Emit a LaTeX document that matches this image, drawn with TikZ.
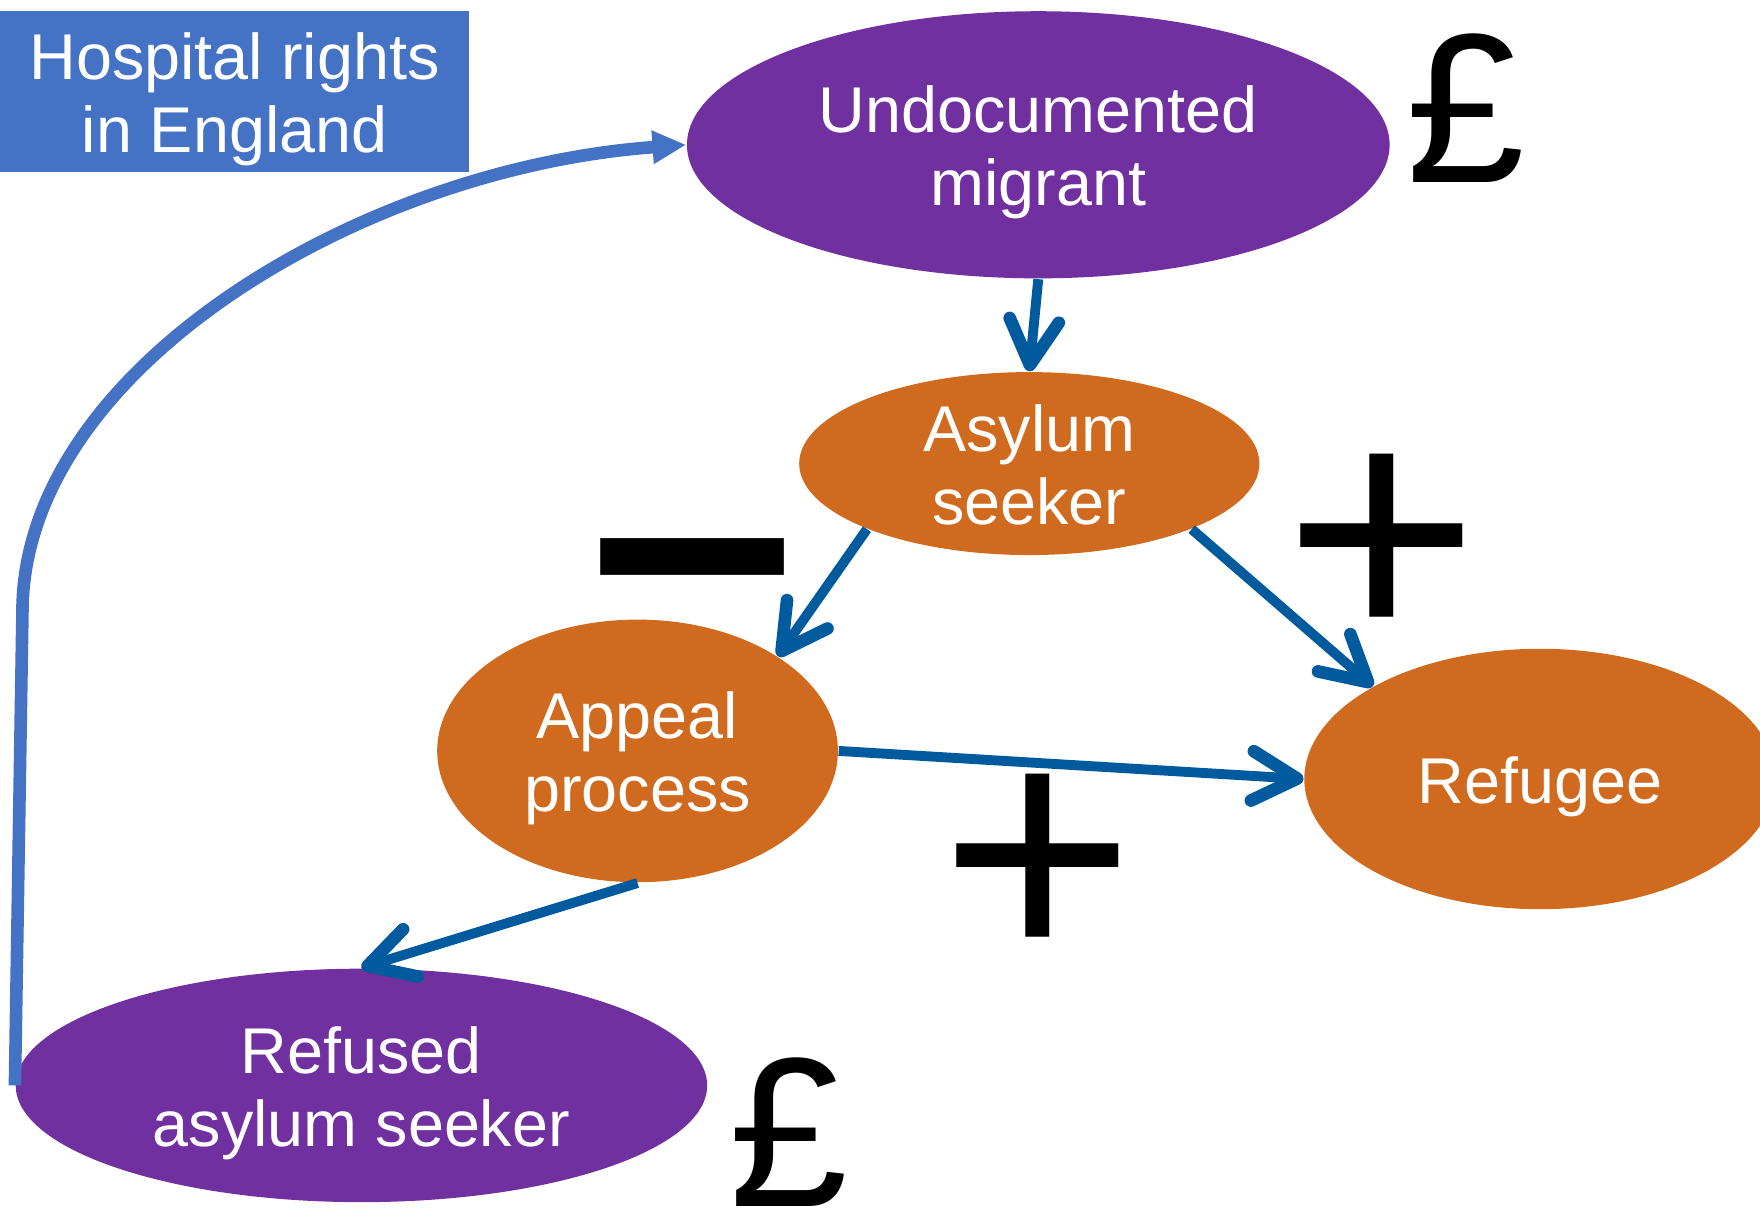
\documentclass[tikz,border=0pt]{standalone}
\usepackage{fontspec}
\setmainfont{Liberation Sans}
\usetikzlibrary{shapes.geometric,arrows.meta}
\definecolor{migrantpurple}{RGB}{112,48,160}
\definecolor{seekerorange}{RGB}{207,106,31}
\definecolor{flowblue}{RGB}{0,90,158}
\definecolor{rightsblue}{RGB}{68,114,196}

\begin{document}
\begin{tikzpicture}[
  status/.style={ellipse,inner sep=0pt,text=white,align=center,
    font=\fontsize{16.4}{18.5}\selectfont,text height=1.2cm,text depth=0.12cm},
  charged/.style={status,fill=migrantpurple},
  stage/.style={status,fill=seekerorange},
  rights/.style={rectangle,inner sep=0pt,fill=rightsblue,text=white,align=center,
    font=\fontsize{16.4}{18.5}\selectfont,text height=1.2cm,text depth=0.12cm},
  flow/.style={draw=flowblue,line width=2.5pt,
    -{Straight Barb[length=0.4cm,width=0.44cm,round,line width=3.2pt]}},
  back/.style={draw=rightsblue,line width=3.2pt,
    -{Triangle[length=0.30cm,width=0.28cm]}},
  sign/.style={anchor=base,inner sep=0pt,font=\fontsize{84.5}{84.5}\selectfont},
  cost/.style={anchor=base,inner sep=0pt,font=\fontsize{54}{54}\selectfont}
]
   \useasboundingbox (0,0) rectangle (15.68,-10.80);

   \path (2.09,-0.815) node[rights,minimum width=4.18cm,minimum height=1.43cm] (Hospital)
   {Hospital rights\\in England};

   \path (9.25,-1.29) node[charged,minimum width=6.26cm,minimum height=2.38cm] (Undoc)
   {Undocumented\\migrant};
   \path (13.06,-1.63) node[cost] (Undocn) {£};

   \path (9.17,-4.13) node[stage,minimum width=4.10cm,minimum height=1.63cm,
     text height=1.08cm,text depth=0cm] (Asyl)
   {Asylum\\seeker};

   \path (5.68,-6.69) node[stage,minimum width=3.57cm,minimum height=2.34cm] (Appeal)
   {Appeal\\process};

   \path (13.72,-6.94) node[stage,minimum width=4.20cm,minimum height=2.32cm,text height=0.55cm] (Refugee)
   {Refugee};

   \path (3.22,-9.67) node[charged,minimum width=6.16cm,minimum height=2.08cm] (Refused)
   {Refused\\asylum seeker};
   \path (7.03,-10.75) node[cost] (Refusedn) {£};

   % signs on the edges
   \path (6.17,-5.85) node[sign,font=\fontsize{94}{94}\selectfont\bfseries] (EAsylAppeal) {–};
   \path (12.31,-5.76) node[sign] (EAsylRefugee) {+};
   \path (9.25,-8.61) node[sign] (EAppealRefugee) {+};

   \draw[flow] (Undoc.south) -- (Asyl.north);
   \draw[flow] (Asyl.-158) -- (Appeal.34);
   \draw[flow] (Asyl.-22) -- (Refugee.151);
   \draw[flow] (Appeal.east) -- (Refugee.west);
   \draw[flow] (Appeal.south) -- (Refused.north);

   \coordinate (Bend) at (0.20,-5.45);
   \draw[back] (Refused.west) -- (Bend) .. controls (0.20,-3.30) and (3.20,-1.50) .. (Undoc.west);
\end{tikzpicture}
\end{document}
